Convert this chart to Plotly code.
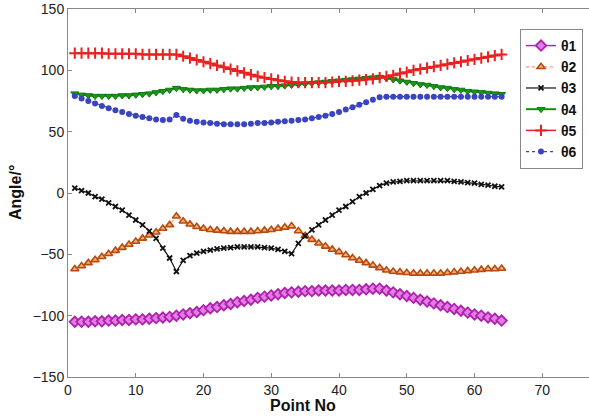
import plotly.graph_objects as go

point_no = list(range(1, 65))

theta1 = [-105, -105, -105, -104.5, -104.5, -104, -104, -103.5, -103.5, -103,
          -103, -102.5, -102, -101.5, -101, -100, -99, -98, -97, -95.5,
          -94, -93, -91.5, -90.5, -89, -88, -87, -85.5, -84.5, -83.5,
          -82.5, -81.5, -81, -80.5, -80, -80, -79.5, -79.5, -79.5, -79.5,
          -79, -79, -79, -78.5, -78, -78, -79.5, -81, -82.5, -84,
          -85.5, -87, -88.5, -90, -91.5, -93, -94.5, -96, -97.5, -99,
          -100, -101.5, -102.5, -104]

theta2 = [-62, -59.5, -57, -54.5, -52, -49.5, -47, -44.5, -42, -39.5,
          -37, -34.5, -32, -29, -26, -19, -23, -25.5, -27.5, -29,
          -30, -30.5, -31, -31.5, -31.5, -31.5, -31.5, -31, -30.5, -30,
          -29, -28, -27, -31, -35, -38, -41, -43.5, -46, -48,
          -50.5, -53, -55, -57, -59, -61, -63, -64, -64.5, -65,
          -65.5, -65.5, -65.5, -65.5, -65.5, -65, -64.5, -64, -63.5, -63,
          -62.5, -62, -62, -61.5]

theta3 = [4, 2, 0, -3, -5, -8, -11, -14, -18, -22,
          -26, -31, -37, -45, -53, -64, -55, -51, -49, -47.5,
          -46.5, -45.5, -45, -44.5, -44, -44, -44, -44, -44.5, -45,
          -46, -47.5, -49.5, -41, -35, -30, -26, -22, -18, -14,
          -11, -7, -3, 0, 3, 6, 8, 9, 9.5, 10,
          10, 10, 10, 10, 10, 10, 9.5, 9, 8.5, 8,
          7, 6.5, 5.5, 5]

theta4 = [81, 80, 79.5, 79, 79, 79, 79, 79.5, 79.5, 80,
          80.5, 81, 82, 83, 84, 85.5, 84.5, 84, 83.5, 83.5,
          84, 84, 84.5, 85, 85, 85.5, 86, 86, 86.5, 87,
          87, 87.5, 88, 88.5, 89, 89.5, 90, 90.5, 91, 91.5,
          92, 92.5, 93, 93.5, 94, 94.5, 93.5, 92.5, 91.5, 90.5,
          89.5, 88.5, 88, 87, 86, 85.5, 84.5, 84, 83, 82.5,
          82, 81.5, 81, 80.5]

theta5 = [114, 114, 114, 114, 114, 113.5, 113.5, 113.5, 113.5, 113.5,
          113, 113, 113, 113, 113, 113, 111.5, 110, 108.5, 107,
          105.5, 104, 102.5, 101, 99.5, 98, 96.5, 95, 94, 93,
          92, 91, 90.5, 90, 90, 90, 90, 90, 90.5, 91,
          91, 91.5, 92, 92.5, 93, 94, 95, 96, 97.5, 98.5,
          100, 101, 102, 103, 104, 105, 106, 107, 108, 109,
          110, 111, 112, 113]

theta6 = [79, 77, 75, 73, 71, 69, 67.5, 66, 64.5, 63,
          62, 61, 60, 59.5, 60, 63.5, 60.5, 59, 58, 57.5,
          57, 56.5, 56, 56, 56, 56, 56.5, 57, 57, 57.5,
          58, 58.5, 59, 59.5, 60, 61, 62, 63, 64.5, 66,
          68, 70, 72, 74, 76, 78, 78.5, 78.5, 78.5, 78.5,
          78.5, 78.5, 78.5, 78.5, 78.5, 78.5, 78.5, 78.5, 78.5, 78.5,
          78.5, 78.5, 78.5, 78.5]

series_names = ["θ1", "θ2", "θ3", "θ4", "θ5", "θ6"]
x_ticks = [0, 10, 20, 30, 40, 50, 60, 70]
y_ticks = [-150, -100, -50, 0, 50, 100, 150]

FONT = "Liberation Sans, Arial, sans-serif"

fig = go.Figure()

fig.add_trace(go.Scatter(x=point_no, y=theta1, name=series_names[0], mode="lines+markers",
                         line=dict(color="#b424b4", width=1.5),
                         marker=dict(symbol="diamond", size=8, color="#e27ee2",
                                     line=dict(color="#b020b0", width=1.8))))
fig.add_trace(go.Scatter(x=point_no, y=theta2, name=series_names[1], mode="lines+markers",
                         line=dict(color="#f0a070", width=1.2, dash="dot"),
                         marker=dict(symbol="triangle-up", size=7, color="#f6b070",
                                     line=dict(color="#b84a10", width=1.6))))
fig.add_trace(go.Scatter(x=point_no, y=theta3, name=series_names[2], mode="lines+markers",
                         line=dict(color="#111111", width=1.2),
                         marker=dict(symbol="x-thin", size=5, color="#111111",
                                     line=dict(color="#111111", width=1.8))))
fig.add_trace(go.Scatter(x=point_no, y=theta4, name=series_names[3], mode="lines+markers",
                         line=dict(color="#109010", width=2),
                         marker=dict(symbol="triangle-down", size=7, color="#1a961a",
                                     line=dict(color="#0e7a0e", width=1))))
fig.add_trace(go.Scatter(x=point_no, y=theta5, name=series_names[4], mode="lines+markers",
                         line=dict(color="#e82020", width=1.5),
                         marker=dict(symbol="cross-thin", size=8, color="#e82020",
                                     line=dict(color="#e82020", width=2))))
fig.add_trace(go.Scatter(x=point_no, y=theta6, name=series_names[5], mode="lines+markers",
                         line=dict(color="#3a44c0", width=1.2, dash="dot"),
                         marker=dict(symbol="circle", size=6, color="#3a44c0",
                                     line=dict(width=0))))

axis_font = dict(family=FONT, size=14, color="#222222")

fig.update_layout(
    width=589, height=418,
    margin=dict(l=68, r=0, t=9, b=41, autoexpand=False),
    paper_bgcolor="white", plot_bgcolor="white",
    showlegend=True,
    legend=dict(x=0.9885, y=0.9457, xanchor="right", yanchor="top",
                bordercolor="#888888", borderwidth=1, bgcolor="white",
                font=dict(family=FONT, size=14, color="#111111", weight="bold"),
                itemwidth=30, tracegroupgap=0),
    xaxis=dict(range=[0, 76.9], tickvals=x_ticks, automargin=False,
               showgrid=False, zeroline=False, showline=True, linecolor="#888888",
               linewidth=1, mirror="ticks", ticks="inside", ticklen=4, tickcolor="#888888",
               tickfont=axis_font),
    yaxis=dict(range=[-150, 150], tickvals=y_ticks, automargin=False,
               showgrid=False, zeroline=False, showline=True, linecolor="#888888",
               linewidth=1, mirror=False, ticks="inside", ticklen=4, tickcolor="#888888",
               tickfont=axis_font),
    annotations=[
        dict(text="<b>Point No</b>", xref="paper", yref="paper", x=0.451, y=0,
             xanchor="center", yanchor="middle", yshift=-28, showarrow=False,
             font=dict(family=FONT, size=16, color="#111111")),
        dict(text="<b>Angle/°</b>", xref="paper", yref="paper", x=0, y=0.5,
             xanchor="center", yanchor="middle", xshift=-53, showarrow=False, textangle=-90,
             font=dict(family=FONT, size=16, color="#111111")),
    ],
)

fig.write_html("out.html", config={"displayModeBar": False},
               post_script="document.body.style.margin='0px';")
